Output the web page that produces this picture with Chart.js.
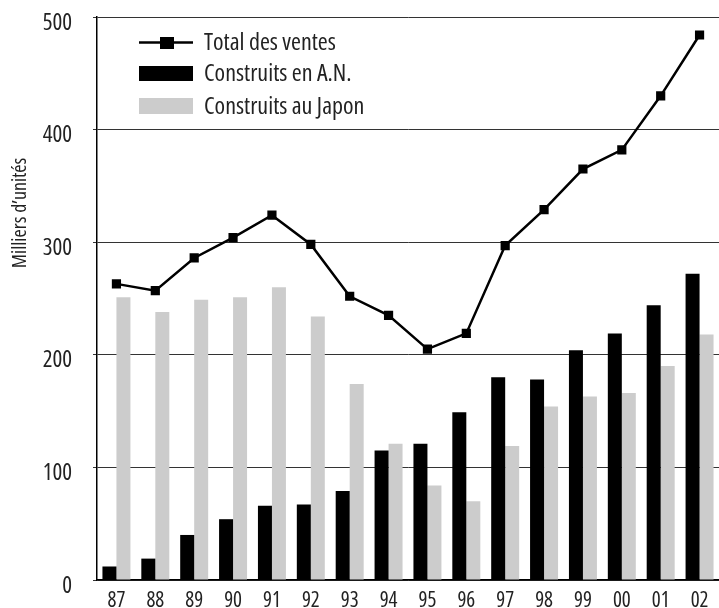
<!DOCTYPE html>
<html>
<head>
<meta charset="utf-8">
<script src="https://cdn.jsdelivr.net/npm/chart.js@4.4.0/dist/chart.umd.min.js"></script>
<style>
  html, body { margin: 0; padding: 0; background: #fff; overflow: hidden; }
  canvas { display: block; }
</style>
</head>
<body>
<canvas id="sales-chart" width="719" height="608"></canvas>
<script>
const years = ['87', '88', '89', '90', '91', '92', '93', '94', '95', '96', '97', '98', '99', '00', '01', '02'];
const totalSales = [263, 257, 286, 304, 324, 298, 252, 235, 205, 219, 297, 329, 365, 382, 430, 484];
const builtNA = [12, 19, 40, 54, 66, 67, 79, 115, 121, 149, 180, 178, 204, 219, 244, 272];
const builtJapan = [251, 238, 249, 251, 260, 234, 174, 121, 84, 70, 119, 154, 163, 166, 190, 218];
const yTicks = [0, 100, 200, 300, 400, 500];
const yTitle = 'Milliers d\u2019unités';

const FONT = '"Open Sans", "Liberation Sans", sans-serif';
// Open Sans is a variable font here, 'condensed' picks the narrow width
const STRETCH = 'condensed';

// legend drawn inside the plot, plus the y title placed like the original
const extras = {
    id: 'extras',
    afterDraw(chart) {
        const ctx = chart.ctx;
        const ds = chart.data.datasets;
        ctx.save();
        ctx.font = STRETCH + ' 24px ' + FONT;
        ctx.textBaseline = 'middle';

        // line entry
        ctx.strokeStyle = '#000';
        ctx.lineWidth = 2.5;
        ctx.beginPath();
        ctx.moveTo(139, 42.5);
        ctx.lineTo(193, 42.5);
        ctx.stroke();
        ctx.fillStyle = '#000';
        ctx.fillRect(160, 37, 14, 12);
        ctx.fillStyle = '#222';
        ctx.fillText(ds[0].label, 204, 43);

        // bar entries
        ctx.fillStyle = ds[1].backgroundColor;
        ctx.fillRect(139, 66, 54, 15);
        ctx.fillStyle = '#222';
        ctx.fillText(ds[1].label, 204, 74);

        ctx.fillStyle = ds[2].backgroundColor;
        ctx.fillRect(139, 98, 54, 16);
        ctx.fillStyle = '#222';
        ctx.fillText(ds[2].label, 204, 107);

        // y axis title
        ctx.translate(20, 213);
        ctx.rotate(-Math.PI / 2);
        ctx.textAlign = 'center';
        ctx.font = STRETCH + ' 20px ' + FONT;
        ctx.fillText(yTitle, 0, 0);
        ctx.restore();
    }
};

const myChart = new Chart(document.getElementById('sales-chart'), {
    type: 'bar',
    data: {
        labels: years,
        datasets: [
            {
                type: 'line',
                label: 'Total des ventes',
                data: totalSales,
                borderColor: '#000',
                borderWidth: 2.5,
                backgroundColor: '#000',
                pointStyle: 'rect',
                pointRadius: 6.5,
                pointBorderWidth: 0,
                tension: 0,
                order: 0
            },
            {
                label: 'Construits en A.N.',
                data: builtNA,
                backgroundColor: '#000',
                order: 1
            },
            {
                label: 'Construits au Japon',
                data: builtJapan,
                backgroundColor: '#cccccc',
                order: 1
            }
        ]
    },
    options: {
        responsive: false,
        animation: false,
        layout: { autoPadding: false, padding: 0 },
        datasets: {
            bar: { barPercentage: 1, categoryPercentage: 0.72 }
        },
        plugins: {
            legend: { display: false },
            tooltip: { enabled: false }
        },
        scales: {
            x: {
                grid: { display: false },
                border: { color: '#000', width: 1.5 },
                ticks: {
                    color: '#222',
                    font: { family: FONT, size: 21, weight: STRETCH },
                    padding: 0,
                    maxRotation: 0
                },
                afterFit: s => {
                    s.height = 28;
                    s.paddingLeft = 0;
                    s.paddingRight = 0;
                }
            },
            y: {
                min: 0,
                max: 500,
                afterBuildTicks: s => { s.ticks = yTicks.map(v => ({ value: v })); },
                grid: { color: '#333', lineWidth: 1, tickLength: 4 },
                border: { color: '#000', width: 1.5 },
                ticks: {
                    color: '#222',
                    font: { family: FONT, size: 23, weight: STRETCH },
                    padding: 21,
                    labelOffset: 6
                },
                afterFit: s => {
                    s.width = 97;
                    // plot top sits 17px down, bottom is set by the x axis
                    s.paddingTop = 17;
                    s.paddingBottom = 0;
                }
            }
        }
    },
    plugins: [extras]
});
</script>
</body>
</html>
